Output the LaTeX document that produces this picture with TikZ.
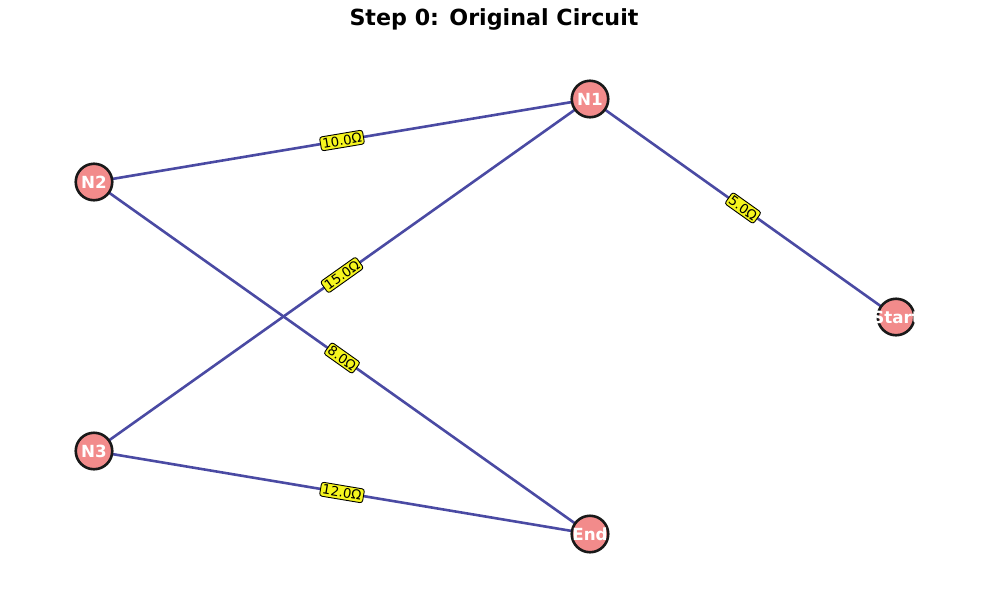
\documentclass[tikz,border=0pt]{standalone}
\usepackage{fontspec}
\setmainfont{DejaVu Sans}
\usetikzlibrary{backgrounds}
\definecolor{nodefill}{HTML}{F28B8B}
\definecolor{edgecol}{HTML}{4A4AA3}
\definecolor{lblfill}{HTML}{F5F51E}
\newcommand{\fixedlbl}[1]{\makebox[0pt][c]{#1}}
\tikzset{
  vtx/.style={circle, draw=black!90, line width=2.6pt, fill=nodefill, minimum size=36.5pt, inner sep=0pt, text=white, font=\fontsize{16.7}{18}\selectfont\bfseries},
  wire/.style={draw=edgecol, line width=2.6pt},
  rlbl/.style={midway, sloped, fill=lblfill, draw=black, line width=0.9pt, rounded corners=2.5pt, inner sep=2pt, font=\fontsize{13.2}{14}\selectfont, text=black},
}
\begin{document}
\begin{tikzpicture}[x=1pt,y=-1pt]
\useasboundingbox (0,0) rectangle (989,590);
\node[font=\fontsize{22.2}{24}\selectfont\bfseries] (title) at (494,19) {Step 0: Original Circuit};
\node[vtx] (n1) at (590,99) {\fixedlbl{N1}};
\node[vtx] (n2) at (94,182) {\fixedlbl{N2}};
\node[vtx] (start) at (896,317) {\fixedlbl{Start}};
\node[vtx] (n3) at (94,451) {\fixedlbl{N3}};
\node[vtx] (end) at (590,534) {\fixedlbl{End}};
\begin{scope}[on background layer]
\draw[wire] (n2.center) -- node[rlbl] {10.0Ω} (n1.center);
\draw[wire] (n3.center) -- node[rlbl] {15.0Ω} (n1.center);
\draw[wire] (n2.center) -- node[rlbl] {8.0Ω} (end.center);
\draw[wire] (n3.center) -- node[rlbl] {12.0Ω} (end.center);
\draw[wire] (n1.center) -- node[rlbl] {5.0Ω} (start.center);
\end{scope}
\end{tikzpicture}
\end{document}
